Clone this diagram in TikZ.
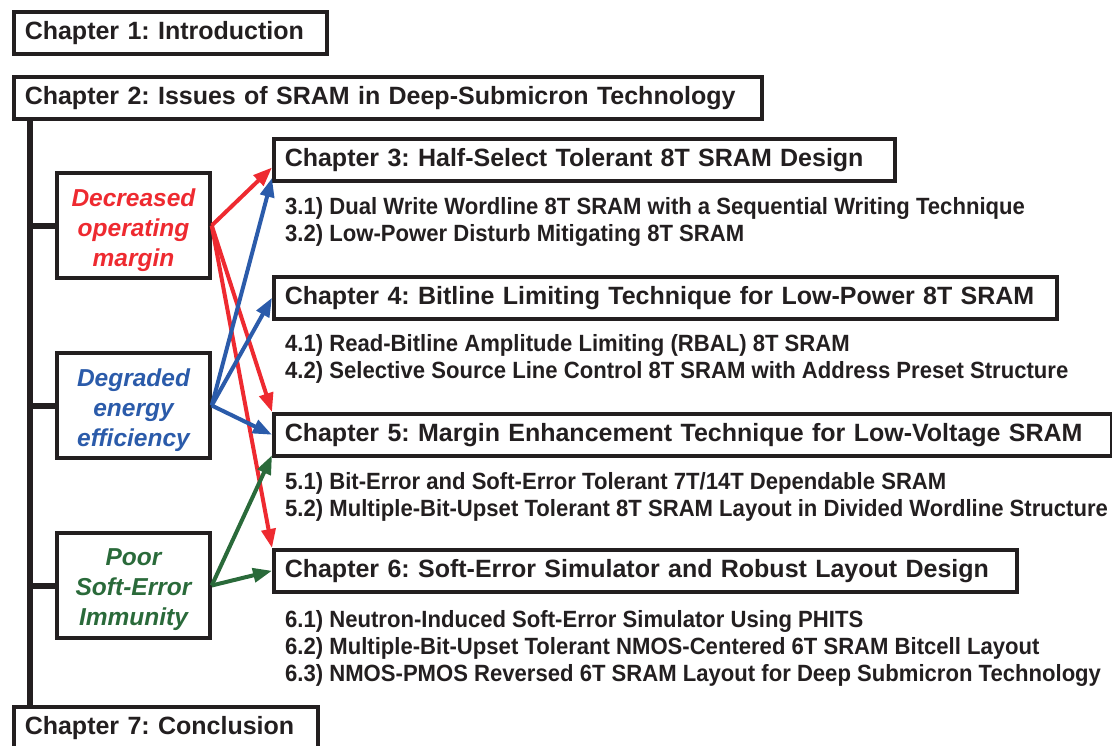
\documentclass[tikz,border=0pt]{standalone}
\usepackage{fontspec}
\setmainfont{Liberation Sans}
\newfontfamily\subfam[FakeStretch=0.94]{Liberation Sans}
\usetikzlibrary{arrows.meta,calc}
\frenchspacing
\definecolor{ink}{HTML}{231F20}
\definecolor{cred}{HTML}{EE2A30}
\definecolor{cblue}{HTML}{2B5BAA}
\definecolor{cgreen}{HTML}{2A6A3A}
\tikzset{
  chbox/.style={draw=ink, line width=3.5pt, inner xsep=11pt, inner ysep=0pt,
    minimum height=42pt, align=left, anchor=north west, text=ink,
    font=\fontsize{25}{28}\selectfont\bfseries},
  issue/.style={draw=ink, line width=3.5pt, minimum width=153pt, minimum height=105pt,
    inner sep=0pt},
  issuetext/.style={inner sep=0pt, align=center, font=\fontsize{24.5}{30}\selectfont\bfseries\itshape},
  item/.style={anchor=base west, inner sep=0pt, text=ink,
    font=\fontsize{23.5}{26}\subfam\bfseries},
  spine/.style={draw=ink, line width=6pt},
  arr/.style={line width=4pt, -{Triangle[length=19pt,width=14pt]}},
}
\begin{document}
\begin{tikzpicture}[x=1pt,y=-1pt]
\useasboundingbox (0,0) rectangle (1112,745);
% chapter boxes
\node[chbox, text width=291pt] (c1) at (12,10) {Chapter 1: Introduction};
\node[chbox, text width=726pt] (c2) at (12,75) {Chapter 2: Issues of SRAM in Deep-Submicron Technology};
\node[chbox, text width=599pt] (c3) at (272,137) {Chapter 3: Half-Select Tolerant 8T SRAM Design};
\node[chbox, text width=761pt] (c4) at (272,275) {Chapter 4: Bitline Limiting Technique for Low-Power 8T SRAM};
\node[chbox, text width=816pt] (c5) at (272,412) {Chapter 5: Margin Enhancement Technique for Low-Voltage SRAM};
\node[chbox, text width=721pt] (c6) at (272,548) {Chapter 6: Soft-Error Simulator and Robust Layout Design};
\node[chbox, text width=282pt] (c7) at (12,705) {Chapter 7: Conclusion};
% issue boxes
\node[issue] (dec) at (133.5,225.5) {};
\node[issue] (deg) at (133.5,405.5) {};
\node[issue] (poor) at (133.5,585.5) {};
\node[issuetext, text=cred] (dect) at ([yshift=-4.5pt]dec.center) {Decreased\\operating\\margin};
\node[issuetext, text=cblue] (degt) at ([yshift=-4.5pt]deg.center) {Degraded\\energy\\efficiency};
\node[issuetext, text=cgreen] (poort) at ([yshift=-4.5pt]poor.center) {Poor\\Soft-Error\\Immunity};
% spine
\coordinate (sp1) at (30,117);
\coordinate (sp2) at (30,705);
\draw[spine] (sp1) -- (sp2);
\draw[spine] (sp1 |- dec.west) -- (dec.west);
\draw[spine] (sp1 |- deg.west) -- (deg.west);
\draw[spine] (sp1 |- poor.west) -- (poor.west);
% items
\node[item] (i31) at (285,214) {3.1) Dual Write Wordline 8T SRAM with a Sequential Writing Technique};
\node[item] (i32) at (285,241) {3.2) Low-Power Disturb Mitigating 8T SRAM};
\node[item] (i41) at (285,351) {4.1) Read-Bitline Amplitude Limiting (RBAL) 8T SRAM};
\node[item] (i42) at (285,378) {4.2) Selective Source Line Control 8T SRAM with Address Preset Structure};
\node[item] (i51) at (285,489) {5.1) Bit-Error and Soft-Error Tolerant 7T/14T Dependable SRAM};
\node[item] (i52) at (285,516) {5.2) Multiple-Bit-Upset Tolerant 8T SRAM Layout in Divided Wordline Structure};
\node[item] (i61) at (285,627) {6.1) Neutron-Induced Soft-Error Simulator Using PHITS};
\node[item] (i62) at (285,654) {6.2) Multiple-Bit-Upset Tolerant NMOS-Centered 6T SRAM Bitcell Layout};
\node[item] (i63) at (285,681) {6.3) NMOS-PMOS Reversed 6T SRAM Layout for Deep Submicron Technology};
% arrows
\draw[arr, cred] (dec.east) -- ($(c3.north west)!0.67!(c3.south west)$);
\draw[arr, cred] (dec.east) -- (c5.north west);
\draw[arr, cred] (dec.east) -- (c6.north west);
\draw[arr, cblue] (deg.east) -- ($(c3.north west)!0.9!(c3.south west)$);
\draw[arr, cblue] (deg.east) -- (c4.west);
\draw[arr, cblue] (deg.east) -- (c5.west);
\draw[arr, cgreen] (poor.east) -- ($(c5.north west)!0.95!(c5.south west)$);
\draw[arr, cgreen] (poor.east) -- (c6.west);
\end{tikzpicture}
\end{document}
